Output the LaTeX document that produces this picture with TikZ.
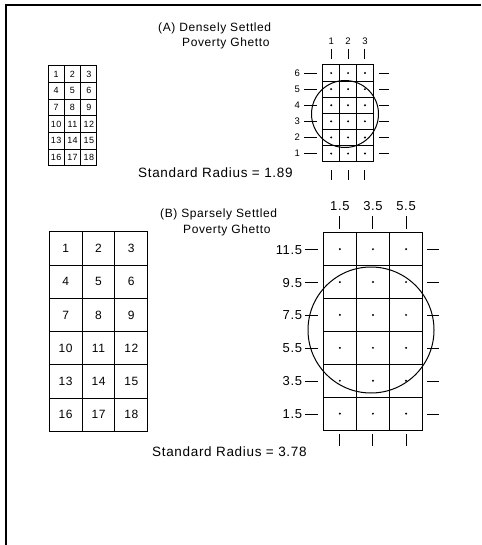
\documentclass[tikz,border=0pt]{standalone}
\usepackage{fontspec}
\usetikzlibrary{calc}
\setmainfont{Liberation Sans}
\newfontfamily\lab[LetterSpace=5]{Liberation Sans}
\begin{document}
\begin{tikzpicture}[x=1pt,y=-1pt,
  frame/.style={line width=1.4pt},
  cellA/.style={draw,line width=1pt,minimum width=16.33pt,minimum height=16.7pt,inner sep=0pt,font=\lab\fontsize{9}{9}\selectfont},
  cellB/.style={draw,line width=1pt,minimum width=32.8pt,minimum height=33.3pt,inner sep=0pt,font=\lab\fontsize{12}{12}\selectfont},
  gridA/.style={draw,line width=1pt,minimum width=16.9pt,minimum height=16.1pt,inner sep=0pt},
  gridB/.style={draw,line width=1pt,minimum width=33.1pt,minimum height=32.9pt,inner sep=0pt},
  ctr/.style={circle,fill,inner sep=0pt,minimum size=2.2pt},
  tick/.style={line width=1pt},
  smalllab/.style={font=\lab\fontsize{9.5}{9.5}\selectfont,inner sep=0pt},
  biglab/.style={font=\lab\fontsize{13}{13}\selectfont,inner sep=0pt},
  title/.style={font=\lab\fontsize{12}{14}\selectfont,inner sep=0pt,align=left},
  radlab/.style={font=\lab\fontsize{13.5}{14}\selectfont,inner sep=0pt}
]
\useasboundingbox (0,0) rectangle (481,545);
% frame
\coordinate (fTL) at (6,5);
\coordinate (fTR) at (481,5);
\coordinate (fBL) at (6,545);
\draw[frame] (fBL) -- (fTL) -- (fTR);

% ---------- (A) ----------
\node[title,anchor=west] (tA1) at (158,28) {(A) Densely Settled};
\node[title,anchor=west] (tA2) at (182,43) {Poverty Ghetto};
% left grid A
\foreach \i in {1,...,6}{
  \foreach \j in {1,2,3}{
    \pgfmathtruncatemacro{\n}{(\i-1)*3+\j}
    \node[cellA] (aL\n) at ({48+16.33*(\j-0.5)},{65.7+16.7*(\i-0.5)}) {\n};
  }
}
% right grid A
\foreach \i in {1,...,6}{
  \foreach \j in {1,2,3}{
    \node[gridA] (aR\i\j) at ({322.7+16.9*(\j-0.5)},{65+16.1*(\i-0.5)}) {};
    \node[ctr] (aD\i\j) at (aR\i\j.center) {};
  }
}
% column ticks A
\foreach \j in {1,2,3}{
  \node[smalllab] (aC\j) at ($(aR1\j.center)+(0,-32)$) {\j};
  \coordinate (aT\j) at ($(aR1\j.north)+(0,-5)$);
  \coordinate (aTt\j) at ($(aR1\j.north)+(0,-15)$);
  \draw[tick] (aT\j) -- (aTt\j);
  \coordinate (aB\j) at ($(aR6\j.south)+(0,8)$);
  \coordinate (aBb\j) at ($(aR6\j.south)+(0,18)$);
  \draw[tick] (aB\j) -- (aBb\j);
}
% row ticks A
\foreach \i/\l in {1/6,2/5,3/4,4/3,5/2,6/1}{
  \node[smalllab] (aRl\i) at ($(aR\i1.west)+(-25,0)$) {\l};
  \coordinate (aLa\i) at ($(aR\i1.west)+(-18,0)$);
  \coordinate (aLb\i) at ($(aR\i1.west)+(-5,0)$);
  \draw[tick] (aLa\i) -- (aLb\i);
  \coordinate (aRa\i) at ($(aR\i3.east)+(5,0)$);
  \coordinate (aRb\i) at ($(aR\i3.east)+(15,0)$);
  \draw[tick] (aRa\i) -- (aRb\i);
}
\node[draw,circle,line width=1pt,minimum size=67pt,inner sep=0pt] (circA) at (345,114) {};
\node[radlab,anchor=west] (rA) at (138,173) {Standard Radius = 1.89};

% ---------- (B) ----------
\node[title,anchor=west] (tB1) at (160,214) {(B) Sparsely Settled};
\node[title,anchor=west] (tB2) at (183,230) {Poverty Ghetto};
% left grid B
\foreach \i in {1,...,6}{
  \foreach \j in {1,2,3}{
    \pgfmathtruncatemacro{\n}{(\i-1)*3+\j}
    \node[cellB] (bL\n) at ({49.3+32.8*(\j-0.5)},{231.7+33.3*(\i-0.5)}) {\n};
  }
}
% right grid B
\foreach \i in {1,...,6}{
  \foreach \j in {1,2,3}{
    \node[gridB] (bR\i\j) at ({323.3+33.1*(\j-0.5)},{232.7+32.9*(\i-0.5)}) {};
    \node[ctr] (bD\i\j) at (bR\i\j.center) {};
  }
}
\foreach \j/\l in {1/1.5,2/3.5,3/5.5}{
  \node[biglab] (bC\j) at ($(bR1\j.center)+(0,-43)$) {\l};
  \coordinate (bT\j) at ($(bR1\j.north)+(0,-3.5)$);
  \coordinate (bTt\j) at ($(bR1\j.north)+(0,-16.5)$);
  \draw[tick] (bT\j) -- (bTt\j);
  \coordinate (bB\j) at ($(bR6\j.south)+(0,3)$);
  \coordinate (bBb\j) at ($(bR6\j.south)+(0,15)$);
  \draw[tick] (bB\j) -- (bBb\j);
}
\foreach \i/\l in {1/11.5,2/9.5,3/7.5,4/5.5,5/3.5,6/1.5}{
  \node[biglab,anchor=east] (bRl\i) at ($(bR\i1.west)+(-20.5,0.5)$) {\l};
  \coordinate (bLa\i) at ($(bR\i1.west)+(-18,0.5)$);
  \coordinate (bLb\i) at ($(bR\i1.west)+(-5,0.5)$);
  \draw[tick] (bLa\i) -- (bLb\i);
  \coordinate (bRa\i) at ($(bR\i3.east)+(4,0.5)$);
  \coordinate (bRb\i) at ($(bR\i3.east)+(16,0.5)$);
  \draw[tick] (bRa\i) -- (bRb\i);
}
\node[draw,circle,line width=1pt,minimum size=126pt,inner sep=0pt] (circB) at (371,330) {};
\node[radlab,anchor=west] (rB) at (152,452) {Standard Radius = 3.78};
\end{tikzpicture}
\end{document}
